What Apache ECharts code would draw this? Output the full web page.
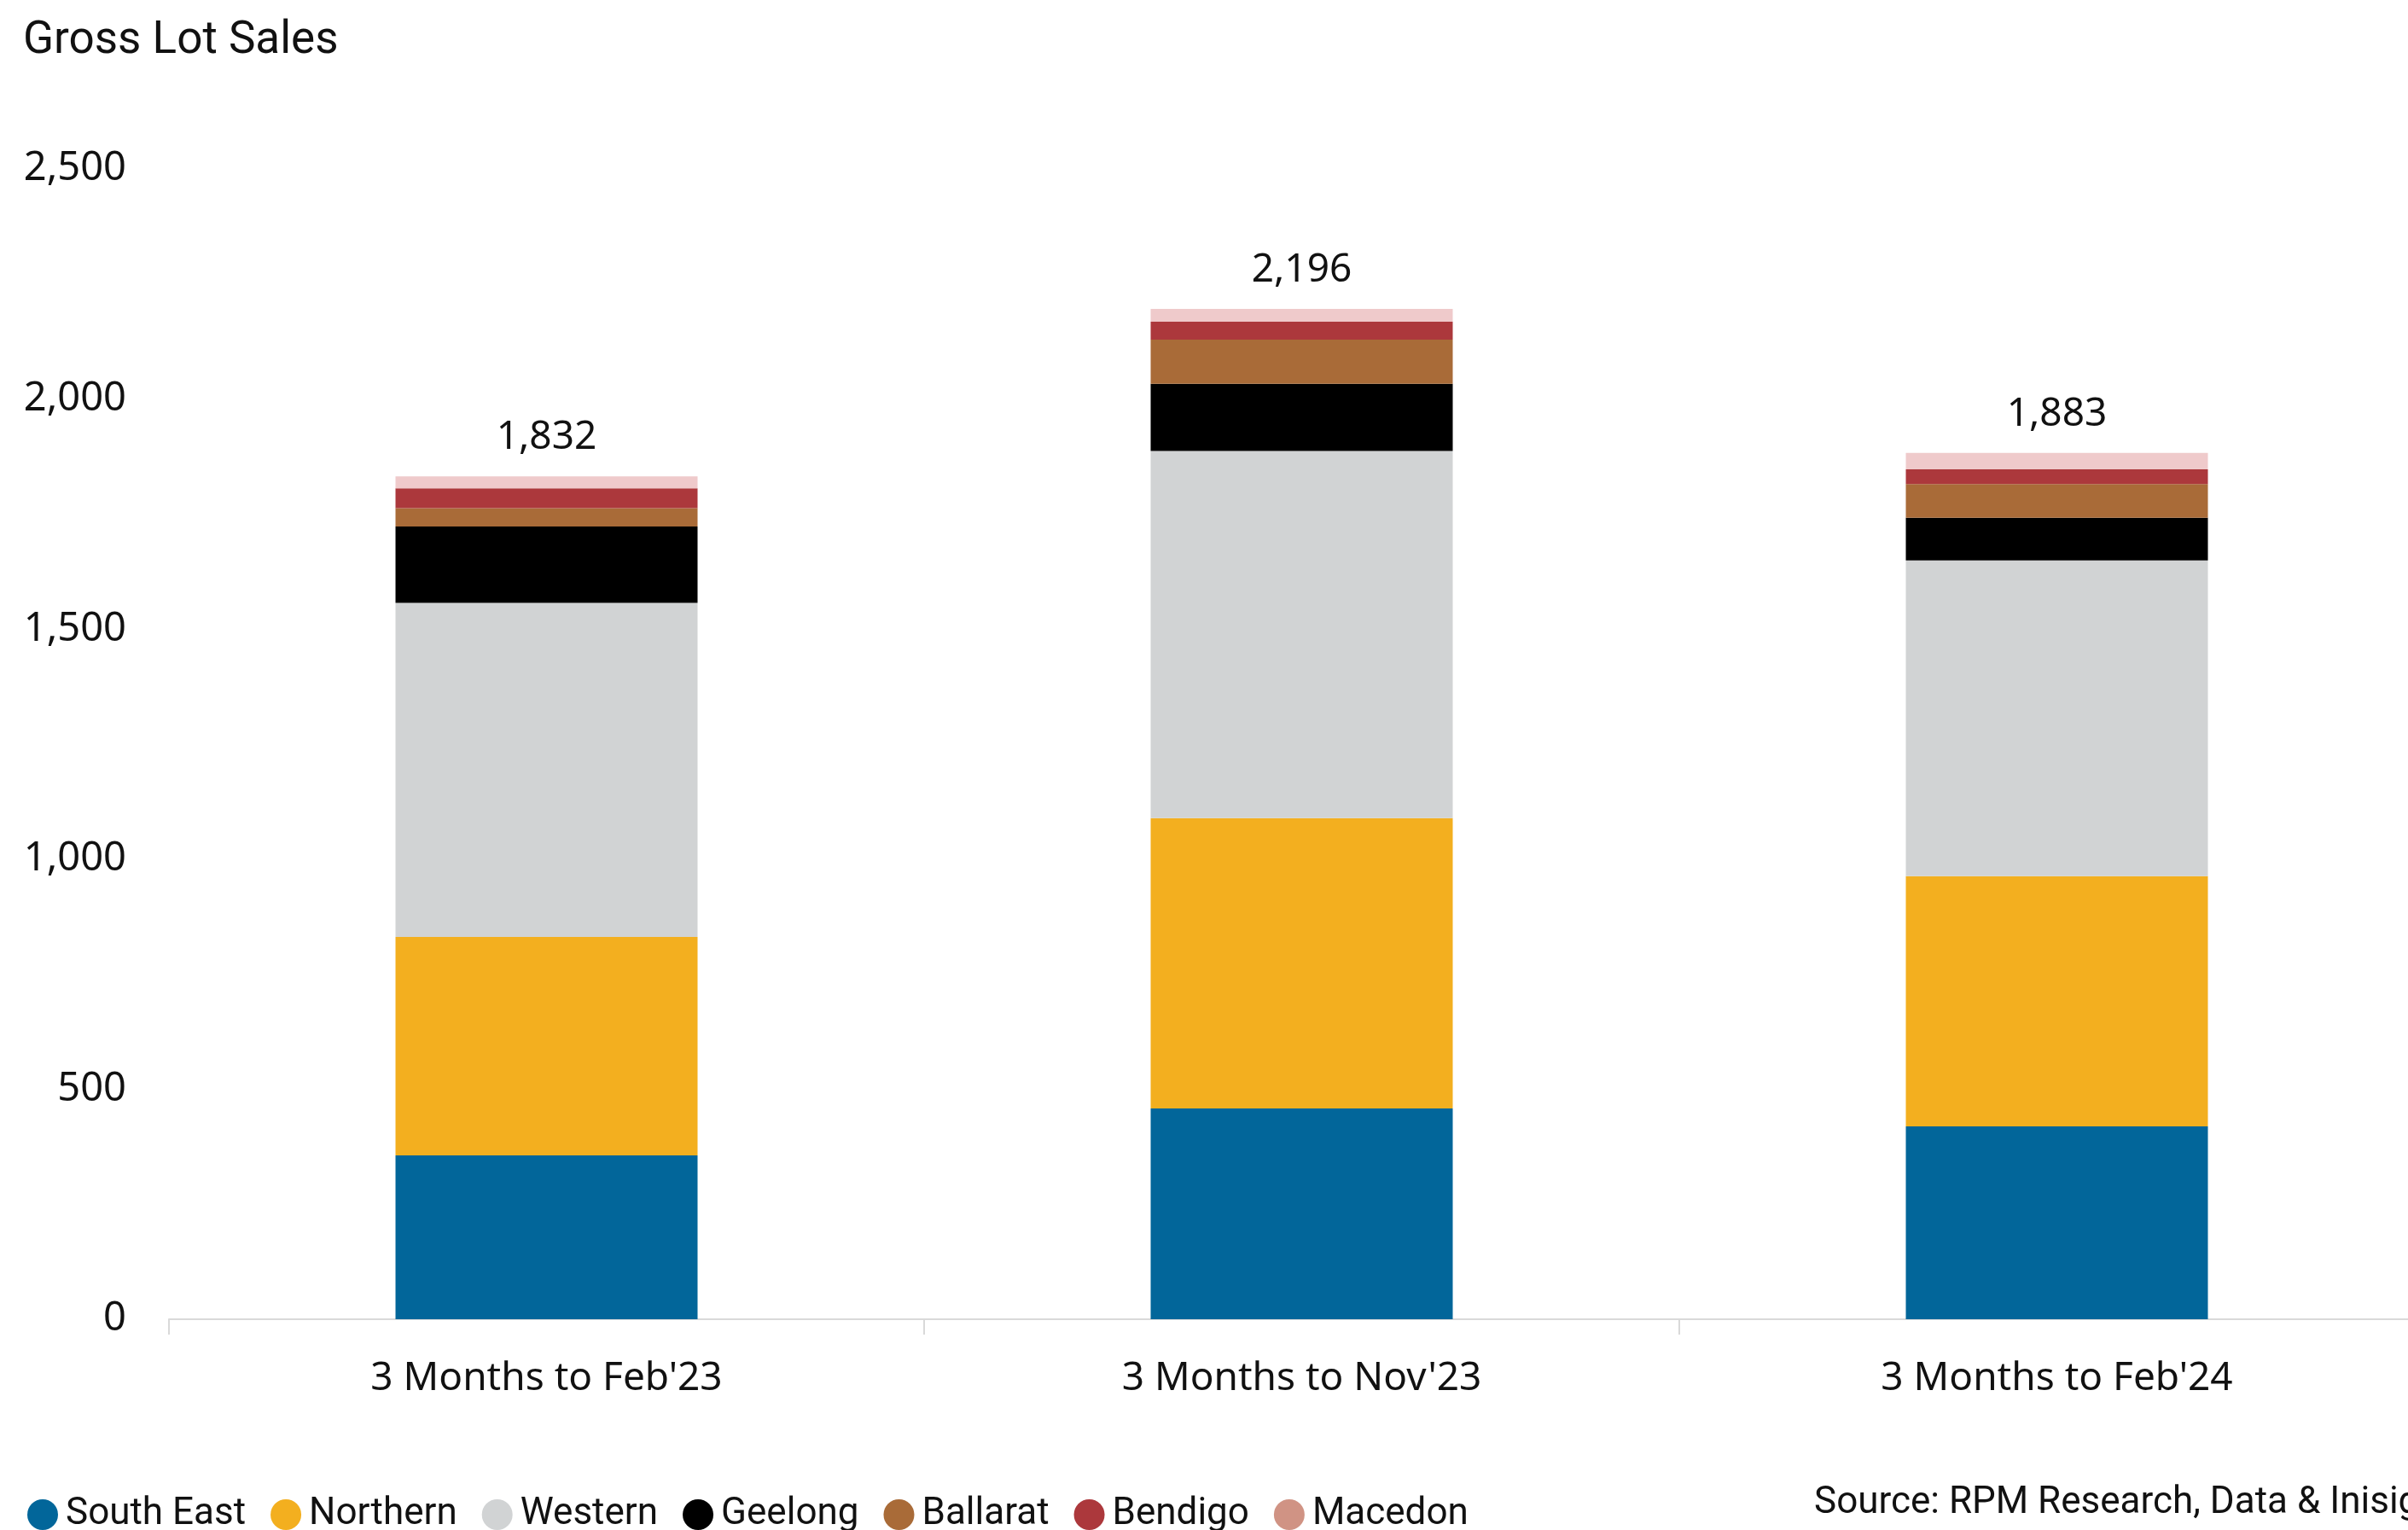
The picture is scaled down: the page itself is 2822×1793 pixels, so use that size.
<!DOCTYPE html>
<html>
<head>
<meta charset="utf-8">
<title>Gross Lot Sales</title>
<script src="https://cdn.jsdelivr.net/npm/echarts@6/dist/echarts.min.js"></script>
<style>
  html, body { margin: 0; padding: 0; background: #ffffff; }
  #chart { width: 2822px; height: 1793px; }
</style>
</head>
<body>
<div id="chart"></div>
<script>
// Gross lot sales by region, rolling three-month periods
const categories = ["3 Months to Feb'23", "3 Months to Nov'23", "3 Months to Feb'24"];
const regions = ['South East', 'Northern', 'Western', 'Geelong', 'Ballarat', 'Bendigo', 'Macedon'];

const southEast = [356, 458, 419];
const northern  = [475, 631, 544];
const western   = [726, 798, 686];
const geelong   = [166, 146, 93];
const ballarat  = [40, 96, 73];
const bendigo   = [43, 39, 32];
const macedon   = [26, 28, 36];

const yTicks = [0, 500, 1000, 1500, 2000, 2500];

const barColors    = ['#02669a', '#f3af1f', '#d1d3d4', '#000000', '#a96b38', '#ac383c', '#efcacb'];
const legendColors = ['#02669a', '#f3af1f', '#d1d3d4', '#000000', '#a96b38', '#ac383c', '#d09384'];

const seriesValues = [southEast, northern, western, geelong, ballarat, bendigo, macedon];
const totals = categories.map((_, i) => seriesValues.reduce((s, arr) => s + arr[i], 0));

const fmt = v => v.toLocaleString('en-US');
const labelFont = '"Noto Sans", "Open Sans", sans-serif';
const textFont = 'Roboto, "Noto Sans", sans-serif';

const chart = echarts.init(document.getElementById('chart'), null, { renderer: 'canvas' });

const series = regions.map((name, k) => {
  const s = {
    name: name,
    type: 'bar',
    stack: 'total',
    barWidth: '40%',
    data: seriesValues[k],
    itemStyle: { color: barColors[k] },
    emphasis: { disabled: true }
  };
  if (k === regions.length - 1) {
    s.label = {
      show: true,
      position: 'top',
      distance: 22,
      fontFamily: labelFont,
      fontSize: 46,
      color: '#111111',
      formatter: p => fmt(totals[p.dataIndex])
    };
  }
  return s;
});

chart.setOption({
  animation: false,
  backgroundColor: '#ffffff',
  // the category axis runs past the right edge of the canvas
  grid: { left: 198, top: 198, width: 2655, height: 1348, containLabel: false, outerBoundsMode: 'none' },
  xAxis: {
    type: 'category',
    data: categories,
    axisLine: { show: true, lineStyle: { color: '#d9d9d9', width: 2 } },
    axisTick: { show: true, length: 18, lineStyle: { color: '#d9d9d9', width: 2 } },
    axisLabel: { fontFamily: labelFont, fontSize: 46, color: '#111111', margin: 47 }
  },
  yAxis: {
    type: 'value',
    min: yTicks[0],
    max: yTicks[yTicks.length - 1],
    interval: 500,
    splitLine: { show: false },
    axisLine: { show: false },
    axisTick: { show: false },
    axisLabel: { fontFamily: labelFont, fontSize: 47, color: '#111111', margin: 50, formatter: v => fmt(v) }
  },
  legend: {
    left: 27,
    top: 1748,
    icon: 'circle',
    itemWidth: 36,
    itemHeight: 36,
    itemGap: 29,
    textStyle: { fontFamily: textFont, fontSize: 44, color: '#111111', padding: [0, 0, 0, 4] },
    data: regions.map((name, k) => ({ name: name, itemStyle: { color: legendColors[k] } })),
    selectedMode: false
  },
  graphic: [
    {
      type: 'text',
      left: 27,
      top: 22,
      style: { text: 'Gross Lot Sales', fontFamily: textFont, fontSize: 53, fill: '#111111' }
    },
    {
      type: 'text',
      left: 2126,
      top: 1740,
      style: { text: 'Source: RPM Research, Data & Inisights', fontFamily: textFont, fontSize: 44, fill: '#111111' }
    }
  ],
  series: series
});
</script>
</body>
</html>
